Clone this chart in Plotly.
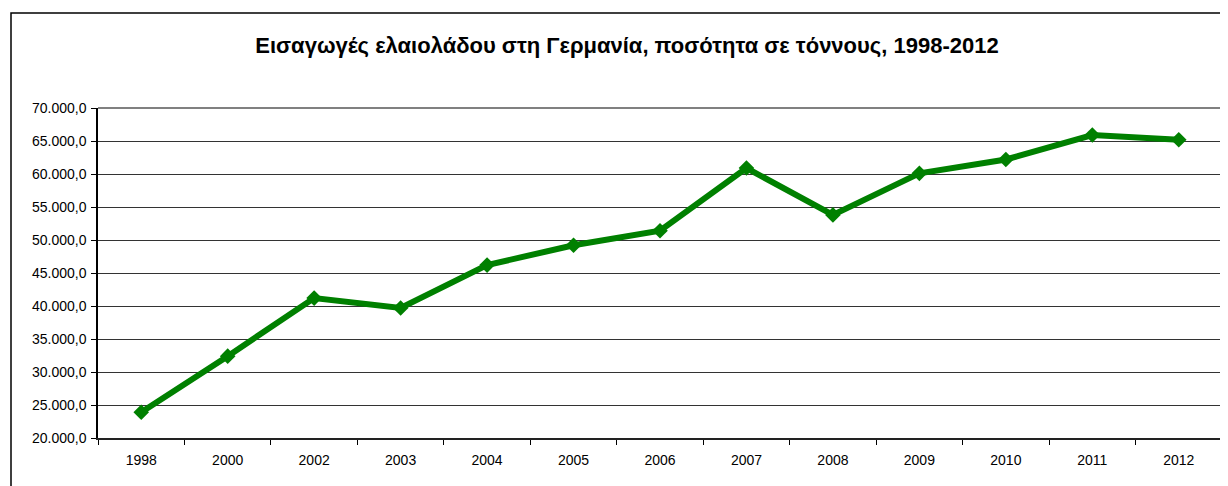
import plotly.graph_objects as go

years = ["1998", "2000", "2002", "2003", "2004", "2005", "2006", "2007", "2008", "2009", "2010", "2011", "2012"]
imports_tonnes = [23900, 32400, 41200, 39700, 46200, 49200, 51400, 60900, 53800, 60100, 62200, 65900, 65200]
y_ticks = [20000, 25000, 30000, 35000, 40000, 45000, 50000, 55000, 60000, 65000, 70000]
title_text = "Εισαγωγές ελαιολάδου στη Γερμανία, ποσότητα σε τόννους, 1998-2012"

# page body has an 8px margin, so the figure starts at (8, 8)
OFF = 8
W, H = 1220, 478
L, R, T, B = 90, 6, 100, 48
pw, ph = W - L - R, H - T - B

fig = go.Figure()
fig.add_trace(go.Scatter(
    x=years, y=imports_tonnes, mode="lines+markers",
    line=dict(color="#008000", width=6),
    marker=dict(symbol="diamond", size=12, color="#008000"),
    showlegend=False,
))

fig.update_layout(
    width=W, height=H,
    margin=dict(l=L, r=R, t=T, b=B),
    paper_bgcolor="white", plot_bgcolor="white",
    separators=",.",
    font=dict(family="Liberation Sans, Arial", size=13, color="black"),
    title=dict(text="<b>" + title_text + "</b>", x=(627 - OFF) / W, xanchor="center",
               y=1 - (45 - OFF) / H, yanchor="middle", yref="container",
               font=dict(size=22, color="black", family="Liberation Sans, Arial")),
    xaxis=dict(type="category", tickson="boundaries", ticks="outside", ticklen=5,
               tickcolor="black", showline=True, linecolor="#222222", linewidth=2,
               showgrid=False, range=[-0.5, len(years) - 0.5],
               tickfont=dict(size=14), ticklabelstandoff=8),
    yaxis=dict(range=[20000, 70000], tickvals=y_ticks, tickformat=",.1f",
               ticks="outside", ticklen=5, tickcolor="black",
               showline=True, linecolor="black", linewidth=1.5,
               showgrid=True, gridcolor="#333333", gridwidth=1, zeroline=False,
               tickfont=dict(size=14), ticklabelstandoff=2),
)

# gray top and right plot border
fig.add_shape(type="line", xref="paper", yref="paper", x0=0, x1=1, y0=1, y1=1,
              line=dict(color="#808080", width=2))
fig.add_shape(type="line", xref="paper", yref="paper", x0=1, x1=1, y0=0, y1=1,
              line=dict(color="#808080", width=2))
# outer chart border
fig.add_shape(type="rect", xref="paper", yref="paper",
              x0=(11 - OFF - L) / pw, x1=(W + 20 - L) / pw,
              y0=(H - B - (H + 20)) / ph, y1=(H - B - (13 - OFF)) / ph,
              line=dict(color="black", width=1.5), layer="below")

fig.write_html("out.html")
